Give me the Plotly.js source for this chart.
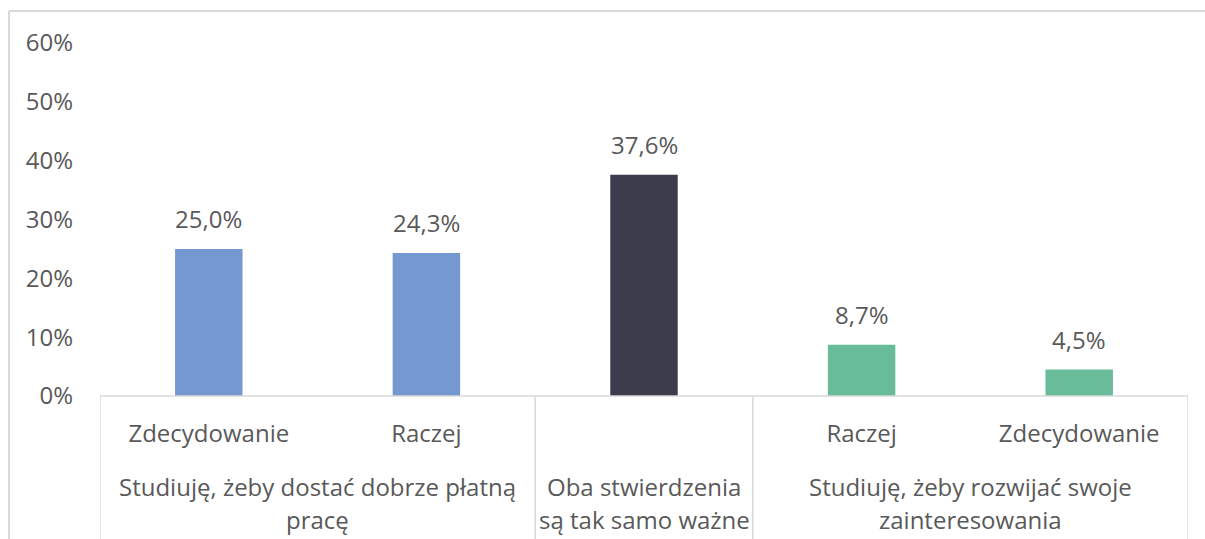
<!DOCTYPE html>
<html><head><meta charset="utf-8">
<script src="https://cdn.plot.ly/plotly-3.0.1.min.js"></script>
<style>html,body{margin:0;padding:0;background:#fff}#chart{width:1205px;height:539px}</style>
</head><body><div id="chart"></div>
<script>
// Data
const innerLabels = ["Zdecydowanie", "Raczej", "", "Raczej", "Zdecydowanie"];
const values = [0.250, 0.243, 0.376, 0.087, 0.045];
const groupNames = [
  ["Studiuję, żeby dostać dobrze płatną", "pracę"],
  ["Oba stwierdzenia", "są tak samo ważne"],
  ["Studiuję, żeby rozwijać swoje", "zainteresowania"]
];
const groupSizes = [2, 1, 2];
const yTickVals = [0, 0.1, 0.2, 0.3, 0.4, 0.5, 0.6];

// Styles
const barColors = ["#7698D0", "#7698D0", "#3D3C4C", "#69BC9A", "#69BC9A"];
const textColor = "#595959";
const lineColor = "#D9D9D9";
const font = "Open Sans, sans-serif";
const fs = 24;

const xs = values.map((v, i) => i);

const annotations = [];
values.forEach((v, i) => {
  annotations.push({
    x: xs[i], y: v, xref: "x", yref: "y", text: (v * 100).toFixed(1).replace(".", ",") + "%",
    showarrow: false, yanchor: "bottom", yshift: 12,
    font: {family: font, size: fs, color: textColor}
  });
});

const shapes = [];
// axis line
shapes.push({type: "line", xref: "x", yref: "paper", x0: -0.5, x1: values.length - 0.5, y0: 0, y1: 0,
  line: {color: lineColor, width: 1.5}});
let start = 0;
const bounds = [-0.5];
groupSizes.forEach((n, g) => {
  const center = start + (n - 1) / 2;
  groupNames[g].forEach((line, k) => {
    annotations.push({
      x: center, xref: "x", y: 0, yref: "paper", yanchor: "middle",
      yshift: -90 - 33 * k, text: line, showarrow: false,
      font: {family: font, size: fs, color: textColor}
    });
  });
  start += n;
  bounds.push(start - 0.5);
});
bounds.forEach(b => {
  shapes.push({type: "line", xref: "x", yref: "paper", x0: b, x1: b, y0: 0, y1: -0.5,
    line: {color: lineColor, width: 1.5}});
});
// chart border (cropped)
shapes.push({type: "line", xref: "paper", yref: "paper", x0: -0.0836, x1: -0.0836, y0: -0.5, y1: 1.0907,
  line: {color: lineColor, width: 2}});
shapes.push({type: "line", xref: "paper", yref: "paper", x0: -0.0836, x1: 1.2, y0: 1.0907, y1: 1.0907,
  line: {color: lineColor, width: 2}});

const trace = {
  type: "bar", x: xs, y: values, width: 0.31,
  marker: {color: barColors}, hoverinfo: "skip"
};

const layout = {
  width: 1205, height: 539,
  margin: {l: 100, r: 17, t: 43, b: 143},
  paper_bgcolor: "#fff", plot_bgcolor: "#fff",
  showlegend: false,
  font: {family: font, size: fs, color: textColor},
  xaxis: {
    range: [-0.5, values.length - 0.5], tickmode: "array", tickvals: xs, ticktext: innerLabels,
    showgrid: false, zeroline: false, showline: false, ticks: "", ticklabelstandoff: 21,
    tickfont: {family: font, size: fs, color: textColor}, fixedrange: true
  },
  yaxis: {
    range: [0, 0.6], tickmode: "array", tickvals: yTickVals,
    ticktext: yTickVals.map(v => Math.round(v * 100) + "%"),
    showgrid: false, zeroline: false, showline: false, ticks: "", ticklabelstandoff: 26,
    tickfont: {family: font, size: fs, color: textColor}, fixedrange: true
  },
  annotations: annotations,
  shapes: shapes
};

Plotly.newPlot("chart", [trace], layout, {staticPlot: true, displayModeBar: false});
</script>
</body></html>
